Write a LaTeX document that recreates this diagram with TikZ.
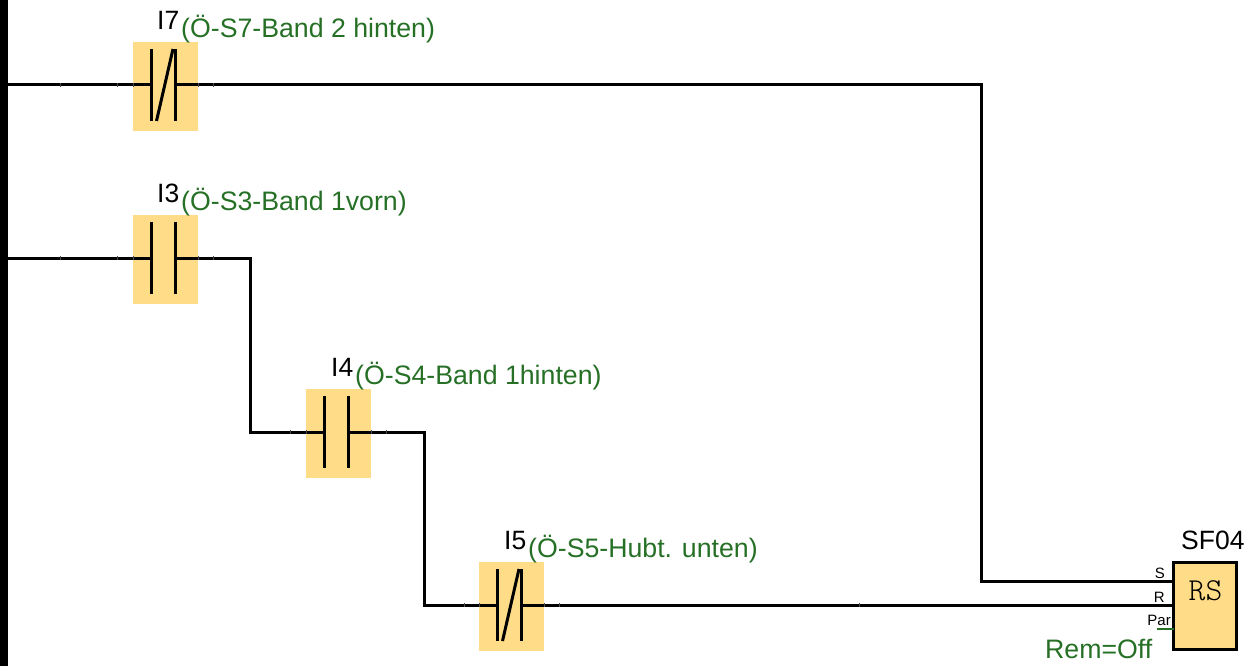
\documentclass[tikz,border=0pt]{standalone}
\usepackage{fontspec}
\setmainfont{Liberation Sans}
\newfontfamily\serifrs{Latin Modern Mono Light}
\definecolor{boxfill}{RGB}{255,221,136}
\definecolor{lblgreen}{RGB}{38,112,38}
\tikzset{
  x=1pt,y=-1pt,
  contactbox/.style={fill=boxfill,draw=none,minimum width=65pt,minimum height=89pt,inner sep=0pt,outer sep=0pt},
  bar/.style={line width=3pt,black},
  wire/.style={line width=3pt,black,line join=miter},
  tick/.style={line width=1pt,black!70},
  namelbl/.style={font=\fontsize{26.5}{26.5}\selectfont,text=black,inner sep=0pt,anchor=base west},
  taglbl/.style={font=\fontsize{26.7}{26.7}\selectfont,text=lblgreen,inner sep=0pt,anchor=base west},
  pinlbl/.style={font=\fontsize{15}{15}\selectfont,text=black,inner sep=0pt,anchor=base east},
  block/.style={fill=boxfill,draw=black,line width=3pt,minimum width=63pt,minimum height=87pt,inner sep=0pt,outer sep=0pt}
}
\newcommand{\contact}[4]{% name, cx, cy(box centre), extra
  \node[contactbox] (#1) at (#2,#3) {};
  \coordinate (#1l) at ($(#1.center)+(-14,-1.5)$);
  \coordinate (#1r) at ($(#1.center)+(10.2,-1.5)$);
  \draw[bar] ($(#1.center)+(-14,-37.5)$) -- ($(#1.center)+(-14,34.5)$);
  \draw[bar] ($(#1.center)+(10.2,-37.5)$) -- ($(#1.center)+(10.2,34.5)$);
  #4
}
\usetikzlibrary{calc}
\begin{document}
\begin{tikzpicture}
\useasboundingbox (0,0) rectangle (1255,666);
\fill[black] (0,0) rectangle (8,666);
\coordinate (railA) at (8,85);
\coordinate (railB) at (8,258);

\contact{iseven}{165.5}{86.5}{\draw[bar] ($(iseven.center)+(-9,34.5)$) -- ($(iseven.center)+(7.5,-37.5)$);}
\contact{ithree}{165.5}{259.5}{}
\contact{ifour}{338.5}{433.5}{}
\contact{ifive}{511.5}{606.5}{\draw[bar] ($(ifive.center)+(-9,34.5)$) -- ($(ifive.center)+(7.5,-37.5)$);}

\node[block] (sf) at (1205,606) {};
\node[font=\serifrs\fontsize{32}{32}\selectfont,anchor=base,inner sep=0pt] (rs) at (1205.5,600) {RS};
\coordinate (sfS) at (sf.west |- 0,581);
\coordinate (sfR) at (sf.west |- 0,605);
\coordinate (sfP) at (sf.west |- 0,629);
\coordinate (parfree) at (1157,629);

\draw[wire] (railA) -- (isevenl);
\draw[wire] (isevenr) -- (981,85) -- (981,581) -- (sfS);
\draw[wire] (railB) -- (ithreel);
\draw[wire] (ithreer) -- (250,258) -- (250,432) -- (ifourl);
\draw[wire] (ifourr) -- (424,432) -- (424,605) -- (ifivel);
\draw[wire] (ifiver) -- (sfR);
\draw[line width=2.6pt,lblgreen] (parfree) -- (sfP);

\foreach \px/\py in {60/85,117/85,133/85,198/85,213/85,
                     60/258,117/258,133/258,198/258,213/258,
                     290/432,306/432,371/432,386/432,
                     464/605,479/605,544/605,559/605,859/605}
  \draw[tick] (\px,\py-2.1) -- (\px,\py+2.1);

\node[namelbl] (nseven) at (157,29.5) {I7};
\node[taglbl] (tseven) at (181,37.5) {(Ö-S7-Band 2 hinten)};
\node[namelbl] (nthree) at (157,202.5) {I3};
\node[taglbl] (tthree) at (181,210.5) {(Ö-S3-Band 1vorn)};
\node[namelbl] (nfour) at (331,376.5) {I4};
\node[taglbl] (tfour) at (355,384.5) {(Ö-S4-Band 1hinten)};
\node[namelbl] (nfive) at (504,549.5) {I5};
\node[taglbl] (tfive) at (528,557.5) {(Ö-S5-Hubt. unten)};
\node[namelbl] (nsf) at (1181,549) {SF04};
\node[pinlbl] (ps) at (1165,578) {S};
\node[pinlbl] (pr) at (1165,602) {R};
\node[pinlbl] (pp) at (1171,625) {Par};
\node[taglbl] (rem) at (1045,658) {Rem=Off};
\end{tikzpicture}
\end{document}
